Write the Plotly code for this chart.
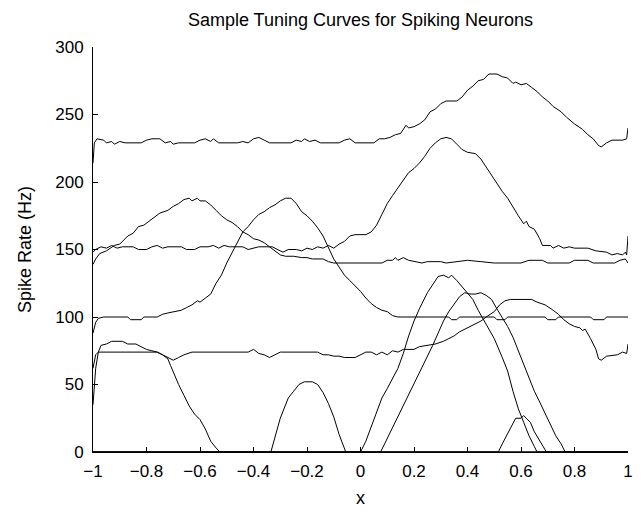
import plotly.graph_objects as go

# ---- data (x, spike rate in Hz) ----
curve_a = [(-1.0, 214), (-0.995, 229), (-0.985, 232), (-0.96, 231), (-0.95, 229), (-0.93, 230), (-0.92, 228),
           (-0.9, 230), (-0.88, 229), (-0.82, 229), (-0.8, 231), (-0.78, 232), (-0.75, 232), (-0.73, 229),
           (-0.71, 230), (-0.7, 228), (-0.68, 229), (-0.62, 229), (-0.6, 231), (-0.58, 232), (-0.56, 230),
           (-0.55, 232), (-0.53, 229), (-0.46, 229), (-0.44, 230), (-0.42, 229), (-0.4, 232), (-0.38, 233),
           (-0.36, 231), (-0.34, 229), (-0.26, 229), (-0.24, 231), (-0.22, 230), (-0.21, 232), (-0.19, 230),
           (-0.17, 231), (-0.15, 229), (-0.08, 229), (-0.06, 231), (-0.04, 232), (-0.02, 229), (0.05, 229),
           (0.07, 232), (0.09, 232), (0.11, 233), (0.13, 235), (0.15, 236), (0.17, 242), (0.18, 240),
           (0.2, 241), (0.22, 243), (0.24, 246), (0.26, 252), (0.28, 254), (0.3, 258), (0.32, 260),
           (0.36, 260), (0.38, 263), (0.4, 268), (0.42, 271), (0.44, 275), (0.46, 276), (0.48, 280),
           (0.51, 280), (0.53, 278), (0.55, 277), (0.57, 273), (0.58, 274), (0.6, 272), (0.62, 273),
           (0.64, 270), (0.66, 267), (0.68, 263), (0.7, 260), (0.72, 256), (0.75, 252), (0.77, 248),
           (0.8, 243), (0.83, 239), (0.85, 235), (0.87, 232), (0.89, 227), (0.9, 226), (0.92, 229),
           (0.94, 231), (0.98, 231), (0.995, 232), (1.0, 240)]

curve_b = [(-1.0, 139), (-0.99, 143), (-0.975, 147), (-0.95, 149), (-0.92, 153), (-0.9, 154), (-0.87, 160),
           (-0.85, 162), (-0.83, 167), (-0.81, 168), (-0.79, 171), (-0.77, 174), (-0.75, 177), (-0.72, 179),
           (-0.7, 182), (-0.68, 184), (-0.66, 187), (-0.64, 188), (-0.63, 186), (-0.61, 188), (-0.6, 186),
           (-0.58, 186), (-0.56, 183), (-0.54, 179), (-0.52, 175), (-0.5, 172), (-0.48, 170), (-0.46, 167),
           (-0.44, 163), (-0.42, 161), (-0.4, 158), (-0.38, 157), (-0.36, 155), (-0.34, 152), (-0.32, 149),
           (-0.3, 146), (-0.28, 145), (-0.25, 145), (-0.22, 144), (-0.2, 144), (-0.18, 143), (-0.14, 143),
           (-0.12, 141), (-0.1, 140), (0.08, 140), (0.1, 142), (0.12, 142), (0.13, 144), (0.14, 142),
           (0.16, 144), (0.18, 142), (0.2, 141), (0.23, 140), (0.25, 141), (0.3, 141), (0.32, 140),
           (0.4, 142), (0.45, 141), (0.5, 140), (0.6, 140), (0.63, 142), (0.68, 142), (0.7, 140),
           (0.78, 140), (0.8, 142), (0.85, 142), (0.87, 140), (0.95, 140), (0.97, 142), (0.99, 143),
           (1.0, 140)]

curve_c = [(-1.0, 148), (-0.99, 150), (-0.97, 152), (-0.95, 151), (-0.93, 153), (-0.91, 151), (-0.89, 152),
           (-0.85, 152), (-0.83, 150), (-0.8, 150), (-0.78, 152), (-0.76, 153), (-0.74, 151), (-0.72, 152),
           (-0.67, 152), (-0.65, 150), (-0.62, 150), (-0.6, 152), (-0.57, 152), (-0.55, 153), (-0.53, 151),
           (-0.51, 153), (-0.49, 152), (-0.44, 152), (-0.42, 150), (-0.4, 151), (-0.38, 152), (-0.33, 152),
           (-0.31, 150), (-0.29, 148), (-0.27, 150), (-0.24, 150), (-0.22, 149), (-0.2, 151), (-0.18, 150),
           (-0.16, 152), (-0.14, 151), (-0.12, 153), (-0.1, 151), (-0.08, 154), (-0.06, 156), (-0.04, 160),
           (-0.02, 161), (0.02, 161), (0.04, 163), (0.06, 168), (0.08, 176), (0.1, 184), (0.12, 190),
           (0.14, 196), (0.16, 202), (0.18, 207), (0.2, 210), (0.22, 214), (0.24, 219), (0.26, 225),
           (0.28, 229), (0.3, 232), (0.32, 233), (0.34, 232), (0.36, 228), (0.38, 224), (0.4, 222),
           (0.43, 221), (0.45, 217), (0.47, 211), (0.49, 204), (0.51, 198), (0.53, 193), (0.55, 188),
           (0.57, 181), (0.59, 175), (0.61, 169), (0.62, 171), (0.63, 167), (0.65, 165), (0.67, 158),
           (0.68, 153), (0.71, 153), (0.72, 151), (0.74, 153), (0.76, 151), (0.78, 152), (0.8, 151),
           (0.85, 151), (0.88, 149), (0.92, 148), (0.94, 146), (0.96, 147), (0.98, 146), (0.99, 148),
           (0.995, 146), (1.0, 160)]

curve_d = [(-1.0, 88), (-0.99, 96), (-0.98, 99), (-0.96, 100), (-0.87, 100), (-0.86, 98), (-0.82, 98),
           (-0.81, 100), (-0.76, 100), (-0.74, 102), (-0.72, 103), (-0.7, 104), (-0.67, 105), (-0.65, 107),
           (-0.63, 109), (-0.61, 112), (-0.6, 111), (-0.58, 114), (-0.56, 117), (-0.54, 125), (-0.52, 131),
           (-0.5, 140), (-0.48, 148), (-0.46, 156), (-0.44, 163), (-0.42, 167), (-0.4, 172), (-0.38, 176),
           (-0.36, 178), (-0.34, 181), (-0.32, 183), (-0.3, 186), (-0.28, 188), (-0.26, 188), (-0.24, 184),
           (-0.22, 178), (-0.2, 175), (-0.18, 171), (-0.16, 166), (-0.14, 160), (-0.12, 152), (-0.1, 143),
           (-0.08, 137), (-0.06, 131), (-0.04, 127), (-0.02, 123), (0.0, 119), (0.02, 114), (0.04, 110),
           (0.06, 107), (0.08, 105), (0.1, 104), (0.12, 101), (0.14, 100), (0.33, 100), (0.34, 98),
           (0.36, 98), (0.37, 100), (0.5, 100), (0.51, 98), (0.54, 98), (0.55, 100), (0.69, 100),
           (0.7, 98), (0.73, 98), (0.74, 100), (0.86, 100), (0.87, 98), (0.91, 98), (0.92, 100), (1.0, 100)]

curve_e = [(-1.0, 62), (-0.99, 72), (-0.98, 74), (-0.76, 74), (-0.74, 72), (-0.72, 70), (-0.7, 68),
           (-0.68, 70), (-0.66, 72), (-0.63, 74), (-0.42, 74), (-0.4, 76), (-0.38, 73), (-0.36, 72),
           (-0.34, 70), (-0.32, 72), (-0.3, 74), (-0.16, 74), (-0.14, 72), (-0.12, 72), (-0.1, 71),
           (-0.08, 71), (-0.06, 70), (-0.02, 70), (0.0, 72), (0.02, 74), (0.04, 74), (0.06, 72),
           (0.08, 74), (0.1, 72), (0.12, 75), (0.14, 74), (0.16, 76), (0.2, 76), (0.22, 78), (0.26, 79),
           (0.28, 80), (0.31, 82), (0.33, 84), (0.35, 86), (0.37, 89), (0.4, 92), (0.43, 95), (0.45, 97),
           (0.47, 100), (0.5, 104), (0.52, 109), (0.54, 112), (0.56, 113), (0.64, 113), (0.66, 111),
           (0.69, 109), (0.72, 105), (0.74, 102), (0.76, 98), (0.78, 95), (0.8, 93), (0.82, 92),
           (0.83, 90), (0.84, 91), (0.86, 84), (0.88, 76), (0.89, 69), (0.9, 68), (0.92, 71), (0.96, 72),
           (0.98, 74), (0.995, 73), (1.0, 80)]

curve_f = [(-1.0, 35), (-0.99, 62), (-0.98, 74), (-0.97, 79), (-0.95, 80), (-0.93, 82), (-0.89, 82),
           (-0.87, 80), (-0.84, 80), (-0.82, 78), (-0.8, 76), (-0.78, 75), (-0.76, 74), (-0.74, 72),
           (-0.72, 69), (-0.71, 64), (-0.7, 59), (-0.68, 50), (-0.66, 42), (-0.64, 34), (-0.62, 28),
           (-0.6, 24), (-0.58, 17), (-0.56, 8), (-0.54, 3), (-0.525, 0), (1.0, 0)]

curve_g = [(-1.0, 0), (-0.335, 0), (-0.3, 25), (-0.27, 40), (-0.25, 45), (-0.23, 50), (-0.21, 52),
           (-0.18, 52), (-0.16, 50), (-0.14, 44), (-0.12, 36), (-0.1, 26), (-0.08, 13), (-0.055, 0),
           (1.0, 0)]

curve_h = [(-1.0, 0), (0.0, 0), (0.02, 8), (0.04, 19), (0.06, 30), (0.08, 40), (0.1, 47), (0.12, 55),
           (0.14, 62), (0.16, 73), (0.18, 86), (0.2, 97), (0.22, 106), (0.25, 118), (0.27, 124),
           (0.29, 130), (0.31, 131), (0.33, 129), (0.34, 131), (0.36, 127), (0.39, 120), (0.42, 113),
           (0.44, 105), (0.46, 98), (0.5, 84), (0.53, 70), (0.55, 60), (0.57, 45), (0.59, 32), (0.61, 22),
           (0.63, 12), (0.65, 4), (0.66, 0), (1.0, 0)]

curve_i = [(-1.0, 0), (0.075, 0), (0.09, 6), (0.11, 14), (0.13, 22), (0.15, 30), (0.17, 38), (0.19, 46),
           (0.21, 54), (0.23, 62), (0.25, 70), (0.27, 79), (0.29, 88), (0.31, 97), (0.33, 104),
           (0.35, 110), (0.37, 115), (0.39, 118), (0.41, 117), (0.43, 117), (0.45, 118), (0.47, 116),
           (0.49, 113), (0.51, 106), (0.53, 100), (0.55, 93), (0.57, 85), (0.59, 75), (0.61, 64),
           (0.63, 54), (0.65, 45), (0.67, 37), (0.69, 29), (0.71, 21), (0.73, 12), (0.75, 6),
           (0.765, 0), (1.0, 0)]

curve_j = [(-1.0, 0), (0.515, 0), (0.53, 6), (0.55, 14), (0.57, 22), (0.58, 25), (0.6, 25), (0.61, 27),
           (0.62, 25), (0.635, 22), (0.65, 15), (0.67, 8), (0.685, 3), (0.695, 0), (1.0, 0)]

curves = [curve_a, curve_b, curve_c, curve_d, curve_e, curve_f, curve_g, curve_h, curve_i, curve_j]

x_tickvals = [-1, -0.8, -0.6, -0.4, -0.2, 0, 0.2, 0.4, 0.6, 0.8, 1]
x_ticktext = ["\u22121", "\u22120.8", "\u22120.6", "\u22120.4", "\u22120.2", "0", "0.2", "0.4", "0.6", "0.8", "1"]
y_tickvals = [0, 50, 100, 150, 200, 250, 300]

FONT = "Liberation Sans, Arial, sans-serif"

fig = go.Figure()
for c in curves:
    xs = [p[0] for p in c]
    ys = [p[1] for p in c]
    fig.add_trace(go.Scatter(x=xs, y=ys, mode="lines",
                             line=dict(color="black", width=1),
                             showlegend=False, hoverinfo="skip"))

axis_common = dict(showline=True, linecolor="black", linewidth=1, mirror=False,
                   ticks="inside", ticklen=5, tickwidth=1, tickcolor="black",
                   showgrid=False, zeroline=False,
                   tickfont=dict(family=FONT, size=17, color="black"))

fig.update_layout(
    width=642, height=513,
    margin=dict(l=93, r=9, t=47, b=49),
    paper_bgcolor="white", plot_bgcolor="white",
    title=dict(text="Sample Tuning Curves for Spiking Neurons",
               font=dict(family=FONT, size=18, color="black"),
               x=0.5, xref="paper", xanchor="center",
               y=1 - 20 / 513, yref="container", yanchor="middle"),
    xaxis=dict(range=[-1, 1], tickvals=x_tickvals, ticktext=x_ticktext,
               title=dict(text="x", font=dict(family=FONT, size=18, color="black"), standoff=10),
               ticklabelstandoff=4,
               **axis_common),
    yaxis=dict(range=[0, 300], tickvals=y_tickvals,
               title=dict(text="Spike Rate (Hz)", font=dict(family=FONT, size=18, color="black"),
                          standoff=18),
               ticklabelstandoff=5,
               **axis_common),
)

fig.write_html("out.html")
